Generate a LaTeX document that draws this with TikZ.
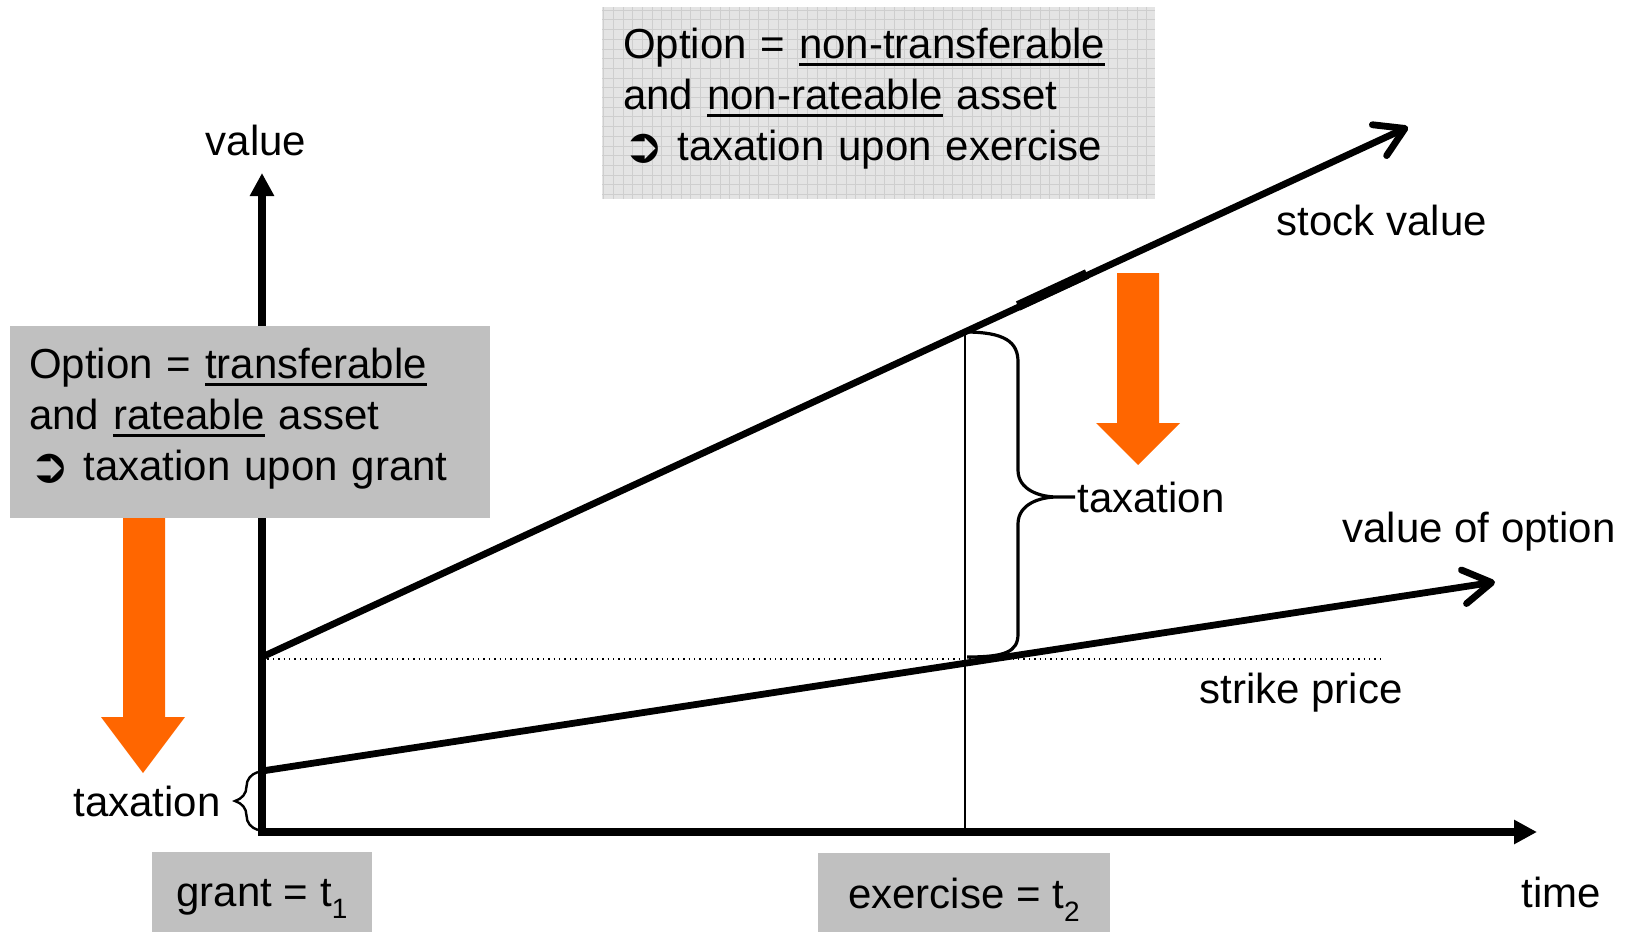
\documentclass[tikz,border=0pt]{standalone}
\usepackage{fontspec}
\setmainfont{Liberation Sans}
\newfontfamily\symfont{DejaVu Sans}
\usepackage{tikz}
\usetikzlibrary{arrows.meta,decorations.pathreplacing}
\definecolor{taxorange}{RGB}{255,102,0}
\definecolor{boxgray}{RGB}{192,192,192}
\definecolor{gridbg}{RGB}{228,228,228}
\definecolor{gridline}{RGB}{206,206,206}
\newcommand{\uln}[1]{\setbox0\hbox{#1}\rlap{\rule[-3.6pt]{\wd0}{1.5pt}}\box0\relax}
\newcommand{\follows}{\raisebox{-0.04em}{\scalebox{1.15}{\symfont ➲}}}
\newcommand{\tsub}[1]{\raisebox{-0.3em}{\fontsize{14}{14}\selectfont #1}}

\begin{document}
\begin{tikzpicture}
    [x=0.5pt, y=-0.5pt, font=\fontsize{21}{25.5}\selectfont,
    axis/.style={line width=4.2pt, {Triangle[length=11.5pt,width=11.5pt]}-{Triangle[length=11.5pt,width=11.5pt]}},
    valueline/.style={line width=3.4pt, line cap=round, -{Straight Barb[length=14pt,width=17pt,round]}},
    greybox/.style={fill=boxgray, inner ysep=0pt},
    gridbox/.style={fill=gridbg, inner ysep=0pt, path picture={
        \draw[gridline, line width=0.5pt, step=4.85pt] (path picture bounding box.south west) grid (path picture bounding box.north east);}},
    taxarrow/.style={fill=taxorange},
    bigbrace/.style={line width=1.6pt, line join=round},
    smallbrace/.style={line width=1.2pt, decorate, decoration={brace, amplitude=11.5pt}}]

\useasboundingbox (0,0) rectangle (1634,932);

\coordinate (origin) at (262,832);
\coordinate (ytop) at (262,173);
\coordinate (xend) at (1537,832);
\coordinate (stock0) at (262,657);
\coordinate (stockend) at (1408,127);
\coordinate (opt0) at (262,771);
\coordinate (optend) at (1495,582);
\coordinate (strike0) at (262,659);
\coordinate (strikeend) at (1384,659);
\coordinate (exstock) at (965,332);
\coordinate (exbase) at (965,832);

% tax arrows
\fill[taxarrow] (123,500) -- (165,500) -- (165,717) -- (185,717) -- (143,773) -- (101,717) -- (123,717) -- cycle;
\fill[taxarrow] (1117,273) -- (1159,273) -- (1159,423) -- (1180,423) -- (1138,465) -- (1096,423) -- (1117,423) -- cycle;

\draw[dotted, line width=0.7pt] (strike0) -- (strikeend);
\draw[line width=1.3pt] (exstock) -- (exbase);
\draw[valueline] (stock0) -- (stockend);
\draw[line width=5pt] (1018,306) -- (1087,274);
\draw[valueline] (opt0) -- (optend);
\draw[axis, line join=miter] (ytop) -- (origin) -- (xend);

% braces
\draw[bigbrace] (exstock) .. controls (1005,332) and (1018,342) .. (1018,362) -- (1018,470)
    .. controls (1018,490) and (1040,497) .. (1057,497) -- (1075,497) coordinate (bracetip)
    (1057,497) .. controls (1040,497) and (1018,504) .. (1018,524) -- (1018,634)
    .. controls (1018,652) and (1005,657) .. (967,657);
\draw[smallbrace] (258,830) -- (258,772) coordinate[midway, xshift=-11.5pt] (smalltip);

\node[gridbox, text width=255.5pt, inner xsep=10.5pt, minimum height=96pt, align=left] (exercisebox) at (878.5,103)
    {Option = \uln{non-transferable}\\ and \uln{non-rateable} asset\\ \follows\ taxation upon exercise\rule[-8.5pt]{0pt}{0pt}};
\node[greybox, text width=221pt, inner xsep=9.5pt, minimum height=96pt, align=left] (grantbox) at (250,422)
    {Option = \uln{transferable}\\ and \uln{rateable} asset\\ \follows\ taxation upon grant\rule[-7.5pt]{0pt}{0pt}};

\node[greybox, minimum width=110pt, minimum height=47pt] (grantlbl) at (262,899) {grant = t\tsub{1}};
\node[greybox, minimum width=146pt, minimum height=47pt] (exerciselbl) at (964,899.5) {exercise = t\tsub{2}};

\node (valuelbl) at (256,140) {value};
\node (timelbl) at (1561,892) {time};
\node (stocklbl) at (1382,220) {stock value};
\node (optionlbl) at (1479,532) {value of option};
\node (strikelbl) at (1301,693) {strike price};
\node[anchor=west, inner sep=1pt] (taxright) at (bracetip) {taxation};
\node[anchor=east, inner xsep=7pt] (taxleft) at (smalltip) {taxation};
\end{tikzpicture}
\end{document}
